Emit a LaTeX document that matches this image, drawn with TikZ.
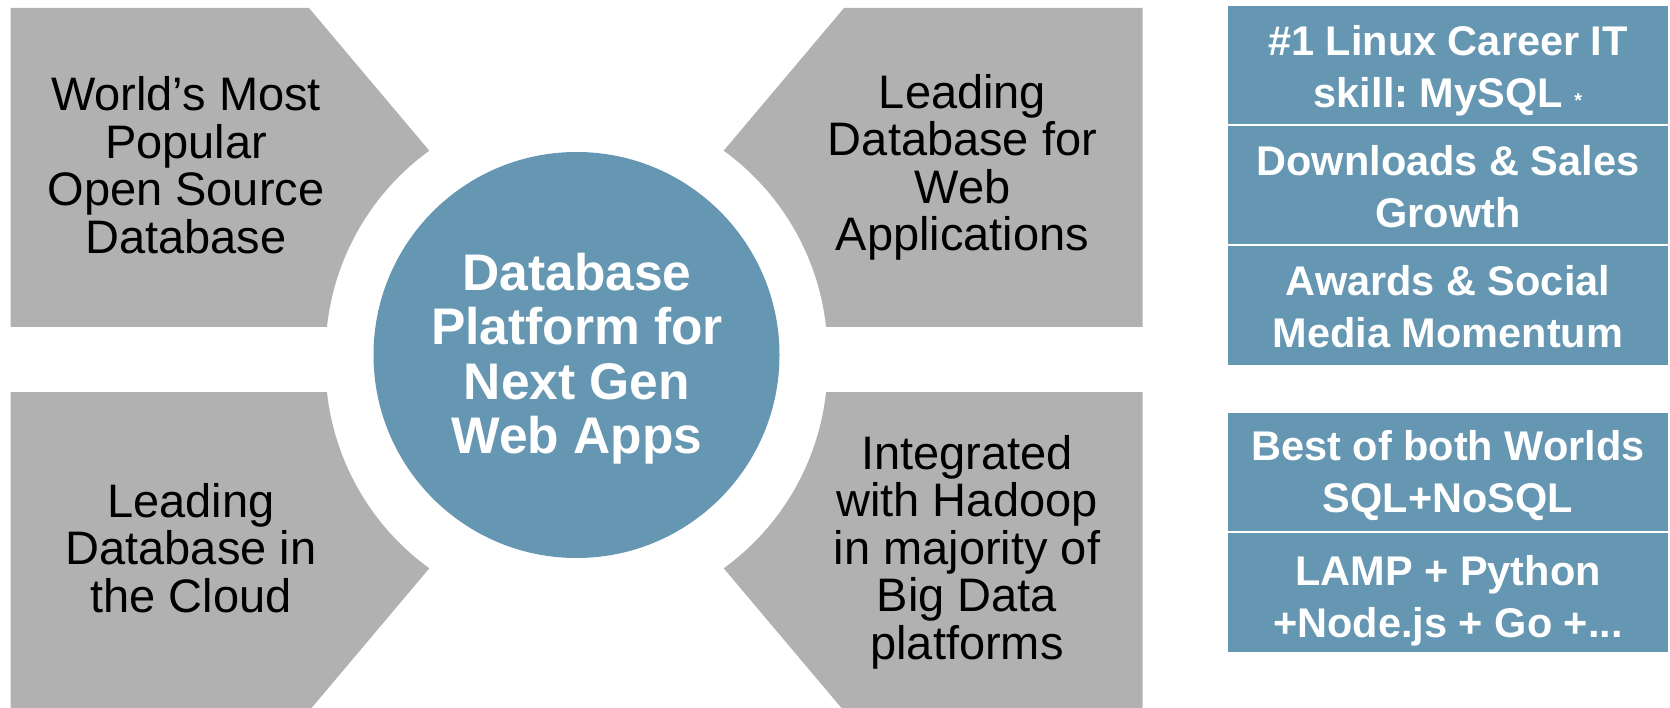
\documentclass[tikz,border=0pt]{standalone}
\usepackage{fontspec}
\setmainfont{Liberation Sans}
\frenchspacing
\definecolor{panelgray}{HTML}{B1B1B1}
\definecolor{hubblue}{HTML}{6596B2}
\begin{document}
\begin{tikzpicture}[x=1pt,y=-1pt,
  panel/.style={fill=panelgray},
  paneltext/.style={align=center, inner sep=0pt, text=black, font=\fontsize{47}{47.5}\selectfont},
  hubdisc/.style={circle, fill=hubblue, minimum size=406pt, inner sep=0pt},
  hubtext/.style={align=center, inner sep=0pt, text=white, font=\bfseries\fontsize{51.5}{54.3}\selectfont},
  factbox/.style={fill=hubblue, minimum width=440pt, minimum height=118pt, inner sep=0pt},
  facttext/.style={align=center, inner sep=0pt, text=white, font=\bfseries\fontsize{41.5}{52}\selectfont}]
\useasboundingbox (0,0) rectangle (1670,708);
\clip (0,0) rectangle (1670,708);

% gray panels
\fill[panel] (10.7,8) -- (309,8) -- (429.3,150.7) arc[start angle=234.1, end angle=186.2, radius=251] -- (10.7,327) -- cycle;
\fill[panel] (1142.7,8) -- (844,8) -- (723.7,150.7) arc[start angle=-54.1, end angle=-6.2, radius=251] -- (1142.7,327) -- cycle;
\fill[panel] (10.7,711) -- (309,711) -- (429.3,568.3) arc[start angle=125.9, end angle=173.8, radius=251] -- (10.7,392) -- cycle;
\fill[panel] (1142.7,711) -- (844,711) -- (723.7,568.3) arc[start angle=54.1, end angle=6.2, radius=251] -- (1142.7,392) -- cycle;

\node[paneltext] (tl) at (186,165) {World’s Most\\Popular\\Open Source\\Database};
\node[paneltext] (tr) at (962.5,167.5) {Leading\\Database for\\Web\\Applications};
\node[paneltext] (bl) at (191,548) {Leading\\Database in\\the Cloud};
\node[paneltext] (br) at (967,552) {Integrated\\with Hadoop\\in majority of\\Big Data\\platforms};

% hub
\node[hubdisc] (hub) at (576.5,355) {};
\node[hubtext] (hublabel) at (577,358.6) {Database\\Platform for\\Next Gen\\Web Apps};

% fact boxes
\node[factbox] (f1) at (1448,65) {};
\node[factbox] (f2) at (1448,185) {};
\node[factbox, minimum height=119pt] (f3) at (1448,305.5) {};
\node[factbox] (f4) at (1448,472) {};
\node[factbox, minimum height=119pt] (f5) at (1448,592.5) {};

\node[facttext] (t1) at (1448,70.5) {\#1 Linux Career IT\\skill: MySQL {\fontsize{20}{20}\selectfont *}};
\node[facttext] (t2) at (1448,186.2) {Downloads \& Sales\\Growth};
\node[facttext] (t3) at (1448,306.2) {Awards \& Social\\Media Momentum};
\node[facttext] (t4) at (1448,475.4) {Best of both Worlds\\SQL+NoSQL};
\node[facttext] (t5) at (1448,600.5) {LAMP + Python\\+Node.js + Go +...};
\end{tikzpicture}
\end{document}
